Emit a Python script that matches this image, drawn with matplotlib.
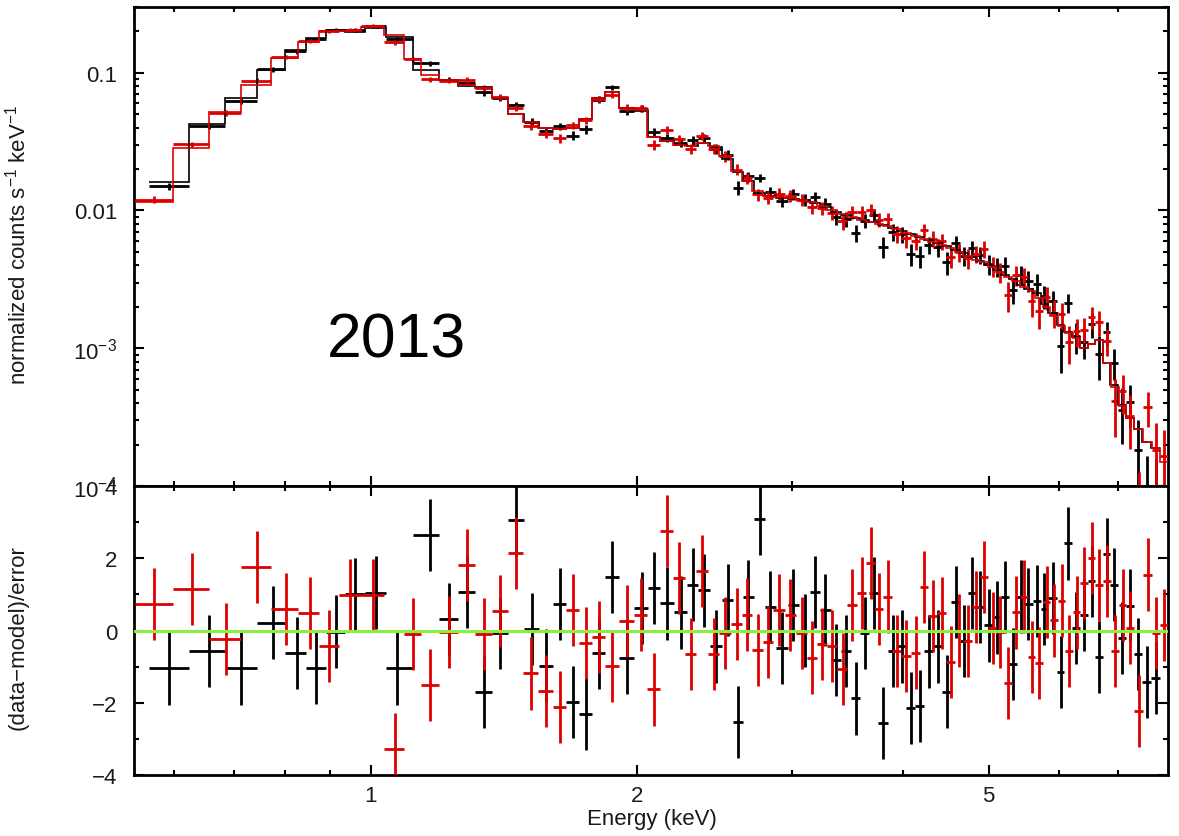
import numpy as np
import matplotlib
matplotlib.use("Agg")
import matplotlib.pyplot as plt
from matplotlib.ticker import FixedLocator, FixedFormatter, NullFormatter, LogLocator

plt.rcParams['font.family'] = ['Liberation Sans', 'DejaVu Sans']
plt.rcParams['mathtext.fontset'] = 'custom'
plt.rcParams['mathtext.rm'] = 'Liberation Sans'
plt.rcParams['mathtext.it'] = 'Liberation Sans:italic'
plt.rcParams['mathtext.bf'] = 'Liberation Sans:bold'

# ---------------- data ----------------
# Dataset 1 (black): bin centre energy (keV), model (counts/s/keV), relative error, residual
black_e = [0.591, 0.656, 0.713, 0.775, 0.825, 0.867, 0.913, 0.960, 1.014, 1.071,
           1.167, 1.226, 1.285, 1.343, 1.401, 1.460, 1.522, 1.578, 1.637, 1.694,
           1.752, 1.813, 1.875, 1.950, 2.027, 2.092, 2.164, 2.244, 2.316, 2.382,
           2.458, 2.537, 2.603, 2.672, 2.757, 2.830, 2.920, 3.005, 3.100, 3.182,
           3.266, 3.361, 3.450, 3.540, 3.624, 3.710, 3.798, 3.898, 3.991, 4.085,
           4.182, 4.281, 4.383, 4.486, 4.593, 4.690, 4.789, 4.890, 5.006, 5.112,
           5.219, 5.329, 5.441, 5.542, 5.673, 5.778, 5.914, 6.039, 6.150, 6.279,
           6.411, 6.546, 6.667, 6.806, 6.931, 7.078, 7.227, 7.379, 7.554, 7.733]
black_model = [0.0160, 0.0425, 0.0655, 0.105, 0.146, 0.180, 0.205, 0.198, 0.210, 0.181,
               0.105, 0.088, 0.080, 0.079, 0.066, 0.050, 0.044, 0.040, 0.039, 0.040,
               0.046, 0.066, 0.073, 0.055, 0.053, 0.034, 0.032, 0.030, 0.0295, 0.031,
               0.029, 0.0235, 0.019, 0.0163, 0.0135, 0.0127, 0.0124, 0.0122, 0.0119, 0.0113,
               0.0106, 0.0098, 0.0093, 0.0088, 0.0085, 0.0082, 0.0079, 0.0075, 0.0071, 0.0067,
               0.0064, 0.0061, 0.0058, 0.0055, 0.0052, 0.0049, 0.0046, 0.0043, 0.0040, 0.0037,
               0.0034, 0.0032, 0.0029, 0.0027, 0.0025, 0.0021, 0.0018, 0.00148, 0.00132, 0.00120,
               0.00100, 0.00108, 0.00115, 0.00078, 0.00054, 0.00039, 0.00031, 0.00026, 0.00021, 0.00019]
black_relerr = [0.06, 0.05, 0.045, 0.04, 0.035, 0.03, 0.03, 0.03, 0.03, 0.035,
                0.045, 0.045, 0.05, 0.05, 0.055, 0.055, 0.06, 0.06, 0.06, 0.065,
                0.065, 0.055, 0.05, 0.055, 0.06, 0.075, 0.075, 0.075, 0.075, 0.075,
                0.08, 0.09, 0.09, 0.09, 0.09, 0.10, 0.10, 0.10, 0.10, 0.10,
                0.105, 0.11, 0.115, 0.115, 0.12, 0.12, 0.12, 0.13, 0.13, 0.13,
                0.13, 0.135, 0.14, 0.14, 0.145, 0.15, 0.155, 0.16, 0.17, 0.17,
                0.18, 0.18, 0.19, 0.20, 0.21, 0.22, 0.24, 0.26, 0.26, 0.26,
                0.28, 0.28, 0.28, 0.32, 0.36, 0.40, 0.44, 0.46, 0.50, 0.55]
black_resid = [-1.05, -0.56, -1.05, 0.22, -0.63, -1.03, -0.03, 1.00, 1.05, -1.05,
               2.64, 0.32, 1.06, -1.71, -0.06, 3.07, 0.05, -0.97, 0.73, -1.97,
               -2.31, -0.63, 1.49, -0.77, 0.62, 1.18, 0.75, 0.50, 1.27, 1.11,
               -0.44, 0.85, -2.53, 0.94, 3.10, 0.65, -0.49, 0.71, 0.00, 1.06,
               0.56, -0.81, -0.56, -1.88, -0.07, 1.04, -2.57, -0.56, -0.44, -2.14,
               -2.09, -0.58, -0.44, -1.69, 0.79, -0.29, 1.04, 0.65, 0.14, 0.36,
               0.92, -0.93, 0.94, 0.73, 0.82, 0.60, 0.90, -1.14, 2.41, 0.06,
               0.42, 1.36, -0.74, 2.12, 1.27, -0.21, 0.69, -0.66, -1.42, -1.32]

# Dataset 2 (red)
red_e = [0.569, 0.628, 0.686, 0.744, 0.802, 0.854, 0.897, 0.948, 1.006, 1.065,
         1.117, 1.167, 1.226, 1.285, 1.343, 1.401, 1.460, 1.518, 1.578, 1.637,
         1.694, 1.752, 1.813, 1.875, 1.950, 2.022, 2.092, 2.164, 2.233, 2.303,
         2.371, 2.446, 2.517, 2.597, 2.665, 2.743, 2.815, 2.897, 2.982, 3.077,
         3.158, 3.241, 3.326, 3.422, 3.503, 3.595, 3.681, 3.758, 3.847, 3.938,
         4.031, 4.139, 4.226, 4.326, 4.429, 4.534, 4.628, 4.738, 4.838, 4.940,
         5.058, 5.151, 5.260, 5.370, 5.483, 5.598, 5.702, 5.821, 5.929, 6.053,
         6.166, 6.295, 6.411, 6.546, 6.667, 6.806, 6.950, 7.097, 7.227, 7.397,
         7.574, 7.733, 7.896]
red_model = [0.0115, 0.0285, 0.0515, 0.082, 0.128, 0.168, 0.202, 0.200, 0.213, 0.188,
             0.126, 0.096, 0.088, 0.081, 0.078, 0.065, 0.050, 0.044, 0.040, 0.039,
             0.040, 0.046, 0.065, 0.073, 0.055, 0.054, 0.034, 0.032, 0.030, 0.0295,
             0.031, 0.0295, 0.025, 0.0195, 0.0165, 0.0138, 0.0128, 0.0125, 0.0123, 0.0120,
             0.0115, 0.0108, 0.0101, 0.0095, 0.0090, 0.0086, 0.0083, 0.0080, 0.0077, 0.0073,
             0.0069, 0.0065, 0.0062, 0.0059, 0.0056, 0.0053, 0.0050, 0.0047, 0.0044, 0.0042,
             0.0039, 0.0036, 0.0033, 0.0031, 0.0028, 0.0026, 0.0023, 0.0020, 0.0017, 0.00145,
             0.00130, 0.00118, 0.00100, 0.00108, 0.00115, 0.00078, 0.00052, 0.00038, 0.00031, 0.00026,
             0.00021, 0.00019, 0.00015]
red_relerr = [0.06, 0.05, 0.045, 0.04, 0.035, 0.03, 0.03, 0.03, 0.03, 0.035,
              0.04, 0.045, 0.045, 0.05, 0.05, 0.055, 0.055, 0.06, 0.06, 0.065,
              0.065, 0.06, 0.055, 0.05, 0.055, 0.06, 0.075, 0.075, 0.075, 0.075,
              0.075, 0.08, 0.09, 0.09, 0.09, 0.095, 0.10, 0.10, 0.10, 0.10,
              0.10, 0.105, 0.11, 0.115, 0.115, 0.12, 0.12, 0.12, 0.13, 0.13,
              0.13, 0.13, 0.135, 0.14, 0.14, 0.145, 0.15, 0.155, 0.16, 0.17,
              0.17, 0.17, 0.18, 0.18, 0.19, 0.20, 0.21, 0.22, 0.24, 0.26,
              0.26, 0.26, 0.28, 0.28, 0.28, 0.32, 0.36, 0.40, 0.44, 0.42,
              0.50, 0.55, 0.60]
red_resid = [0.74, 1.15, -0.24, 1.75, 0.60, 0.48, -0.42, 0.97, 0.99, -3.27,
             -0.10, -1.51, -0.05, 1.82, -0.09, 0.55, 2.15, -1.19, -1.67, -2.12,
             0.57, -0.35, -0.17, -0.98, 0.27, 0.44, -1.63, 2.75, 1.45, -0.65,
             1.64, -0.65, -0.07, 0.18, 0.44, -0.54, -0.32, 0.57, 0.42, -0.07,
             -0.75, -0.38, -0.43, -1.06, 0.71, 1.04, 1.87, 0.59, 0.94, -0.56,
             -0.70, -0.61, 1.20, 0.41, 0.48, -0.88, 0.00, -0.29, 0.65, 1.48,
             0.06, -0.05, -1.46, 0.50, 0.94, -0.74, -0.91, 0.79, 0.28, 0.83,
             -0.56, 0.50, 1.31, 2.01, 1.25, 1.38, -0.56, 0.71, 0.08, -2.22,
             1.55, -0.07, 0.16]

label_text = "2013"
BLACK = "#000000"
RED = "#dd0000"
GREEN = "#86f03c"
FS = 16


def bin_edges(centres):
    c = np.asarray(centres, float)
    mids = np.sqrt(c[:-1] * c[1:])
    first = c[0] ** 2 / mids[0]
    last = c[-1] ** 2 / mids[-1]
    return np.concatenate([[first], mids, [last]])


fig = plt.figure(figsize=(11.79, 8.37), dpi=100)
L, W = 134 / 1179, 1034 / 1179
ax1 = fig.add_axes([L, 1 - 487 / 837, W, (487 - 8) / 837])
ax2 = fig.add_axes([L, 1 - 776 / 837, W, (776 - 487) / 837], sharex=ax1)

for e, m, s, r, col in [(black_e, black_model, black_relerr, black_resid, BLACK),
                        (red_e, red_model, red_relerr, red_resid, RED)]:
    e = np.asarray(e); m = np.asarray(m); s = np.asarray(s); r = np.asarray(r)
    edges = bin_edges(e)
    xlo = e - edges[:-1]
    xhi = edges[1:] - e
    sigma = s * m
    data = m + r * sigma
    ax1.errorbar(e, data, yerr=sigma, xerr=[xlo, xhi], fmt='none',
                 ecolor=col, elinewidth=2.0, capsize=0, zorder=3)
    ax1.stairs(m, edges, baseline=None, color=col, lw=1.2, zorder=4)
    ax2.errorbar(e, r, yerr=np.ones_like(r), xerr=[xlo, xhi], fmt='none',
                 ecolor=col, elinewidth=2.0, capsize=0, zorder=3)

ax2.axhline(0, color=GREEN, lw=2.2, zorder=5)

# axes setup
ax1.set_xscale('log')
ax1.set_yscale('log')
ax1.set_xlim(0.540, 7.98)
ax1.set_ylim(1e-4, 0.30)
ax2.set_ylim(-4, 4)

xmaj = [1, 2, 5]
xmin = [0.6, 0.7, 0.8, 0.9, 3, 4, 6, 7]
for ax in (ax1, ax2):
    ax.xaxis.set_major_locator(FixedLocator(xmaj))
    ax.xaxis.set_minor_locator(FixedLocator(xmin))
    ax.xaxis.set_minor_formatter(NullFormatter())
    ax.tick_params(which='both', direction='in', top=True, right=True,
                   width=1.5, colors='black', labelcolor='#1a1a1a', labelsize=FS)
    ax.tick_params(which='major', length=7)
    ax.tick_params(which='minor', length=3.8)
    for sp in ax.spines.values():
        sp.set_linewidth(2.0)

ax1.tick_params(axis='x', labelbottom=False)
ax1.yaxis.set_major_locator(FixedLocator([1e-4, 1e-3, 1e-2, 1e-1]))
ax1.yaxis.set_major_formatter(FixedFormatter([r'$\mathregular{10^{-4}}$', r'$\mathregular{10^{-3}}$', '0.01', '0.1']))
ax1.yaxis.set_minor_locator(LogLocator(base=10, subs=np.arange(2, 10)))
ax1.yaxis.set_minor_formatter(NullFormatter())
ax1.tick_params(axis='y', pad=12)

ax2.xaxis.set_major_formatter(FixedFormatter(['1', '2', '5']))
ax2.yaxis.set_major_locator(FixedLocator([-4, -2, 0, 2, 4]))
ax2.yaxis.set_minor_locator(FixedLocator([-3, -1, 1, 3]))
ax2.tick_params(axis='y', pad=12)
ax2.tick_params(axis='x', pad=7)

ax1.text(0.254, 0.271, label_text, transform=ax1.transAxes, ha='center',
         va='baseline', fontsize=45, color='black')

fig.text(18 / 1179, 1 - 245 / 837, r'normalized counts s$^{\mathregular{-1}}$ keV$^{\mathregular{-1}}$',
         rotation=90, ha='center', va='center', fontsize=FS, color='#1a1a1a')
fig.text(18 / 1179, 1 - 638 / 837, '(data\u2212model)/error', rotation=90,
         ha='center', va='center', fontsize=FS, color='#1a1a1a')
fig.text(652 / 1179, 1 - 820 / 837, 'Energy (keV)', ha='center', va='center',
         fontsize=FS, color='#1a1a1a')

fig.savefig('out.png', dpi=100)
